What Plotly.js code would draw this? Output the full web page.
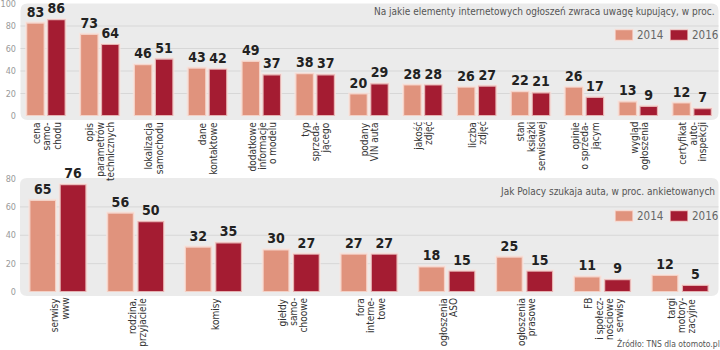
<!DOCTYPE html>
<html><head><meta charset="utf-8">
<script src="https://cdn.plot.ly/plotly-3.0.1.min.js"></script>
<style>html,body{margin:0;padding:0;background:#fff}</style>
</head><body><div id="chart" style="width:720px;height:350px"></div>
<script>
// ---- data ----
const topLabels = [
  ["cena","samo-","chodu"],
  ["opis","parametrów","technicznych"],
  ["lokalizacja","samochodu"],
  ["dane","kontaktowe"],
  ["dodatkowe","informacje","o modelu"],
  ["typ","sprzeda-","jącego"],
  ["podany","VIN auta"],
  ["jakość","zdjęć"],
  ["liczba","zdjęć"],
  ["stan","książki","serwisowej"],
  ["opinie","o sprzeda-","jącym"],
  ["wygląd","ogłoszenia"],
  ["certyfikat","auto-","inspekcji"]
];
const top2014 = [83,73,46,43,49,38,20,28,26,22,26,13,12];
const top2016 = [86,64,51,42,37,37,29,28,27,21,17,9,7];

const botLabels = [
  ["serwisy","www"],
  ["rodzina,","przyjaciele"],
  ["komisy"],
  ["giełdy","samo-","choowe"],
  ["fora","interne-","towe"],
  ["ogłoszenia","ASO"],
  ["ogłoszenia","prasowe"],
  ["FB","i społecz-","nościowe","serwisy"],
  ["targi","motory-","zacyjne"]
];
const bot2014 = [65,56,32,30,27,18,25,11,12];
const bot2016 = [76,50,35,27,27,15,15,9,5];

const years = ["2014","2016"];
const topTicks = [0,20,40,60,80,100];
const botTicks = [0,20,40,60,80];
const topTitle = "Na jakie elementy internetowych ogłoszeń zwraca uwagę kupujący, w proc.";
const botTitle = "Jak Polacy szukaja auta, w proc. ankietowanych";
const source = "Źródło: TNS dla otomoto.pl";

// ---- styling ----
const W = 720, H = 350, ML = 19, MR = 1;
const PW = W - ML - MR;
const COLORS = ['#e0937d', '#a41c32'];
const BORDER = 'rgba(250,228,222,0.75)';
const NARROW = '"DejaVu Sans Condensed", "Liberation Sans Narrow", "Arial Narrow", "DejaVu Sans", sans-serif';
const px = x => (x - ML) / PW;
const py = y => (H - y) / H;

const topKeys = topLabels.map(l => l.join(' '));
const botKeys = botLabels.map(l => l.join(' '));

function barTrace(keys, vals, k, xa, ya) {
  return {
    type: 'bar', x: keys, y: vals, name: years[k], xaxis: xa, yaxis: ya,
    showlegend: false,
    marker: {color: COLORS[k], line: {color: BORDER, width: 2.2}},
    text: vals.map(String), textposition: 'outside', constraintext: 'none',
    cliponaxis: false,
    textfont: {family: NARROW, size: 14, color: '#222', weight: 'bold'},
    hoverinfo: 'skip'
  };
}

const data = [
  barTrace(topKeys, top2014, 0, 'x', 'y'),
  barTrace(topKeys, top2016, 1, 'x', 'y'),
  barTrace(botKeys, bot2014, 0, 'x2', 'y2'),
  barTrace(botKeys, bot2016, 1, 'x2', 'y2')
];

function roundRect(x0, y0, x1, y1, r) {
  const X0 = px(x0), X1 = px(x1), Y0 = py(y0), Y1 = py(y1);
  const rx = r / PW, ry = r / H;
  return `M${X0+rx},${Y0} L${X1-rx},${Y0} Q${X1},${Y0} ${X1},${Y0-ry} L${X1},${Y1+ry} Q${X1},${Y1} ${X1-rx},${Y1} L${X0+rx},${Y1} Q${X0},${Y1} ${X0},${Y1+ry} L${X0},${Y0-ry} Q${X0},${Y0} ${X0+rx},${Y0} Z`;
}

const shapes = [
  {type: 'path', xref: 'paper', yref: 'paper', path: roundRect(20.5, 3.5, 718.5, 120, 7),
   fillcolor: '#ebebeb', line: {width: 0}, layer: 'below'},
  {type: 'path', xref: 'paper', yref: 'paper', path: roundRect(20, 178, 718.5, 296, 7),
   fillcolor: '#ebebeb', line: {width: 0}, layer: 'below'}
];
topTicks.slice(1, -1).forEach(v => shapes.push({type: 'line', xref: 'paper', yref: 'y', x0: px(20.5), x1: px(718.5), y0: v, y1: v, line: {color: '#d7d7d7', width: 1}, layer: 'below'}));
botTicks.slice(1, -1).forEach(v => shapes.push({type: 'line', xref: 'paper', yref: 'y2', x0: px(20), x1: px(718.5), y0: v, y1: v, line: {color: '#d7d7d7', width: 1}, layer: 'below'}));

const annotations = [];
const LS = 10.3;
function catLabels(labels, keys, xref, yref, dx) {
  labels.forEach((lines, i) => {
    const n = lines.length;
    lines.forEach((t, j) => {
      annotations.push({
        text: t, x: keys[i], y: 0, xref: xref, yref: yref,
        xanchor: 'center', yanchor: 'top', textangle: -90,
        xshift: (j - (n - 1) / 2) * LS + dx, yshift: -5,
        showarrow: false, borderpad: 0,
        font: {family: NARROW, size: 10, color: '#333'}
      });
    });
  });
}
catLabels(topLabels, topKeys, 'x', 'y', 0.5);
catLabels(botLabels, botKeys, 'x2', 'y2', 1.5);

// manual legends (swatch + label), one per panel
function legend(cy) {
  const sx = [615, 670], tx = [636, 691];
  years.forEach((yr, k) => {
    shapes.push({type: 'rect', xref: 'paper', yref: 'paper',
      x0: px(sx[k]), x1: px(sx[k] + 18), y0: py(cy + 5.5), y1: py(cy - 5.5),
      fillcolor: COLORS[k], line: {color: BORDER, width: 1.5}});
    annotations.push({text: yr, xref: 'paper', yref: 'paper', x: px(tx[k]), y: py(cy),
      xanchor: 'left', yanchor: 'middle', showarrow: false, borderpad: 0,
      font: {family: NARROW, size: 11.5, color: '#666'}});
  });
}
legend(35);
legend(216);

annotations.push({text: topTitle, xref: 'paper', yref: 'paper', x: px(716), y: py(12),
  xanchor: 'right', yanchor: 'middle', showarrow: false, borderpad: 0, font: {family: NARROW, size: 10, color: '#555'}});
annotations.push({text: botTitle, xref: 'paper', yref: 'paper', x: px(716), y: py(191),
  xanchor: 'right', yanchor: 'middle', showarrow: false, borderpad: 0, font: {family: NARROW, size: 10, color: '#555'}});
annotations.push({text: source, xref: 'paper', yref: 'paper', x: px(721), y: py(343),
  xanchor: 'right', yanchor: 'middle', showarrow: false, borderpad: 0, font: {family: NARROW, size: 8.5, color: '#555'}});

const yax = (ticks, dom) => ({
  domain: dom, range: [0, ticks[ticks.length - 1]], tickvals: ticks, ticktext: ticks.map(String),
  showgrid: false, zeroline: false, showline: false, ticks: '',
  tickfont: {family: NARROW, size: 9, color: '#999'}, ticklabelstandoff: 2,
  ticklabeloverflow: 'allow', fixedrange: true
});
const xax = (keys) => ({
  type: 'category', categoryorder: 'array', categoryarray: keys,
  showticklabels: false, showgrid: false, zeroline: false, showline: false, ticks: '', fixedrange: true
});

const layout = {
  width: W, height: H,
  margin: {l: ML, r: MR, t: 0, b: 0, pad: 0},
  paper_bgcolor: '#fff', plot_bgcolor: 'rgba(0,0,0,0)',
  barmode: 'group', bargap: 0.22, bargroupgap: 0.12,
  xaxis: Object.assign(xax(topKeys), {domain: [0, 1], anchor: 'y'}),
  yaxis: Object.assign(yax(topTicks, [py(116), py(3.5)]), {anchor: 'x'}),
  xaxis2: Object.assign(xax(botKeys), {domain: [0, 1], anchor: 'y2'}),
  yaxis2: Object.assign(yax(botTicks, [py(292), py(178.5)]), {anchor: 'x2'}),
  shapes: shapes, annotations: annotations, showlegend: false
};

Plotly.newPlot('chart', data, layout, {displayModeBar: false, staticPlot: true});
</script></body></html>
